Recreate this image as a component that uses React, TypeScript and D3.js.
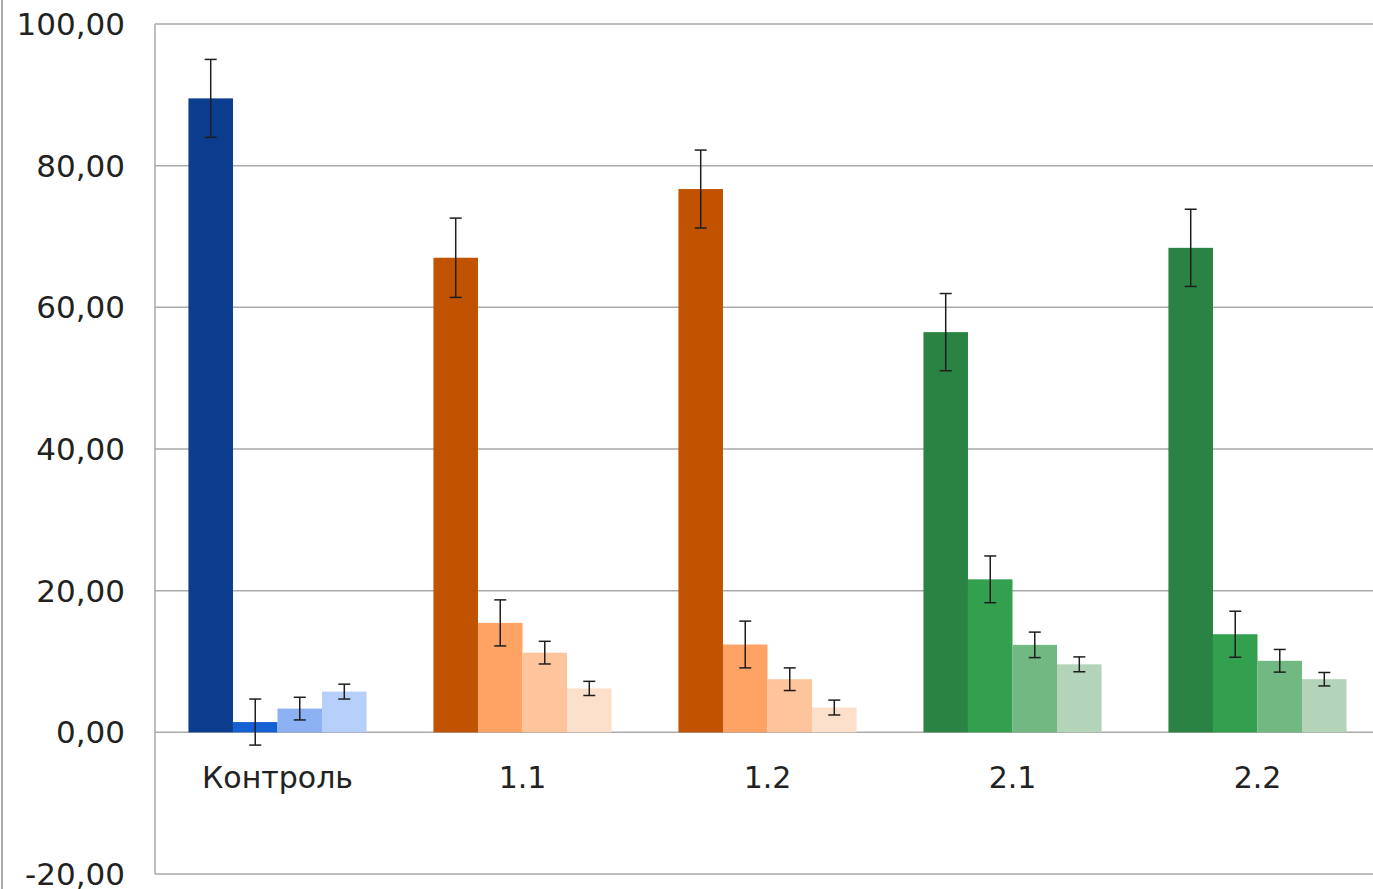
import React from "react";
import * as d3 from "d3";

// Groups along the x axis
const categories = ["Контроль", "1.1", "1.2", "2.1", "2.2"];

// Four measurements per group (mean values)
const series1 = [89.5, 67.0, 76.7, 56.5, 68.4];
const series2 = [1.45, 15.45, 12.4, 21.6, 13.85];
const series3 = [3.35, 11.25, 7.5, 12.35, 10.1];
const series4 = [5.75, 6.2, 3.5, 9.6, 7.5];

// Error half-widths for each measurement
const err1 = [5.5, 5.6, 5.5, 5.45, 5.45];
const err2 = [3.25, 3.25, 3.3, 3.3, 3.25];
const err3 = [1.6, 1.6, 1.6, 1.8, 1.6];
const err4 = [1.05, 1.0, 1.05, 1.05, 0.95];

// Y-axis ticks
const yTicks = [-20, 0, 20, 40, 60, 80, 100];

// Palette per group: blue for control, orange for 1.x, green for 2.x
const palettes = [
  ["#0b3c8e", "#1560d2", "#8cb2f3", "#b6cffa"],
  ["#c05200", "#fea363", "#fec49c", "#fde0cb"],
  ["#c05200", "#fea363", "#fec49c", "#fde0cb"],
  ["#2a8343", "#33a04f", "#72b883", "#b3d4b9"],
  ["#2a8343", "#33a04f", "#72b883", "#b3d4b9"],
];

const W = 1373;
const H = 889;
const margin = { left: 155, top: 24, bottom: 874 };

export default function App() {
  const values = [series1, series2, series3, series4];
  const errors = [err1, err2, err3, err4];

  const x = d3
    .scaleBand<string>()
    .domain(categories)
    .range([margin.left, margin.left + 245 * categories.length])
    .paddingInner(0.273)
    .paddingOuter(0.1365);

  const sub = d3
    .scaleBand<number>()
    .domain([0, 1, 2, 3])
    .range([0, x.bandwidth()]);

  const y = d3.scaleLinear().domain([-20, 100]).range([margin.bottom, margin.top]);

  const fmt = (v: number) => v.toFixed(2).replace(".", ",");
  const font = "DejaVu Sans, Verdana, sans-serif";
  const capW = 12;

  return (
    <svg
      width={W}
      height={H}
      style={{ position: "absolute", left: 0, top: 0, background: "#fff" }}
    >
      {/* outer frame edge */}
      <line x1={2} x2={2} y1={0} y2={H} stroke="#a8a8a8" strokeWidth={2} />

      {/* gridlines */}
      {yTicks.map((t) => (
        <line
          key={t}
          x1={margin.left}
          x2={W}
          y1={y(t)}
          y2={y(t)}
          stroke="#a9a9a9"
          strokeWidth={1.5}
        />
      ))}
      <line
        x1={margin.left}
        x2={margin.left}
        y1={y(100)}
        y2={y(-20)}
        stroke="#a9a9a9"
        strokeWidth={1.5}
      />

      {/* y tick labels */}
      {yTicks.map((t) => (
        <text
          key={"l" + t}
          x={125}
          y={y(t)}
          dy="0.36em"
          textAnchor="end"
          fontFamily={font}
          fontSize={31}
          fill="#222"
        >
          {fmt(t)}
        </text>
      ))}

      {/* bars */}
      {categories.map((c, ci) =>
        values.map((s, si) => {
          const v = s[ci];
          const bx = (x(c) as number) + (sub(si) as number);
          const top = y(Math.max(0, v));
          return (
            <rect
              key={c + si}
              x={bx}
              y={top}
              width={sub.bandwidth()}
              height={Math.abs(y(v) - y(0))}
              fill={palettes[ci][si]}
            />
          );
        })
      )}

      {/* error bars */}
      {categories.map((c, ci) =>
        values.map((s, si) => {
          const v = s[ci];
          const e = errors[si][ci];
          const cx = (x(c) as number) + (sub(si) as number) + sub.bandwidth() / 2;
          const y1 = y(v + e);
          const y2 = y(v - e);
          return (
            <g key={"e" + c + si} stroke="#1e1e1e" strokeWidth={1.5}>
              <line x1={cx} x2={cx} y1={y1} y2={y2} />
              <line x1={cx - capW / 2} x2={cx + capW / 2} y1={y1} y2={y1} />
              <line x1={cx - capW / 2} x2={cx + capW / 2} y1={y2} y2={y2} />
            </g>
          );
        })
      )}

      {/* category labels */}
      {categories.map((c) => (
        <text
          key={"c" + c}
          x={(x(c) as number) + x.bandwidth() / 2}
          y={788}
          textAnchor="middle"
          fontFamily={font}
          fontSize={30}
          fill="#222"
        >
          {c}
        </text>
      ))}
    </svg>
  );
}
